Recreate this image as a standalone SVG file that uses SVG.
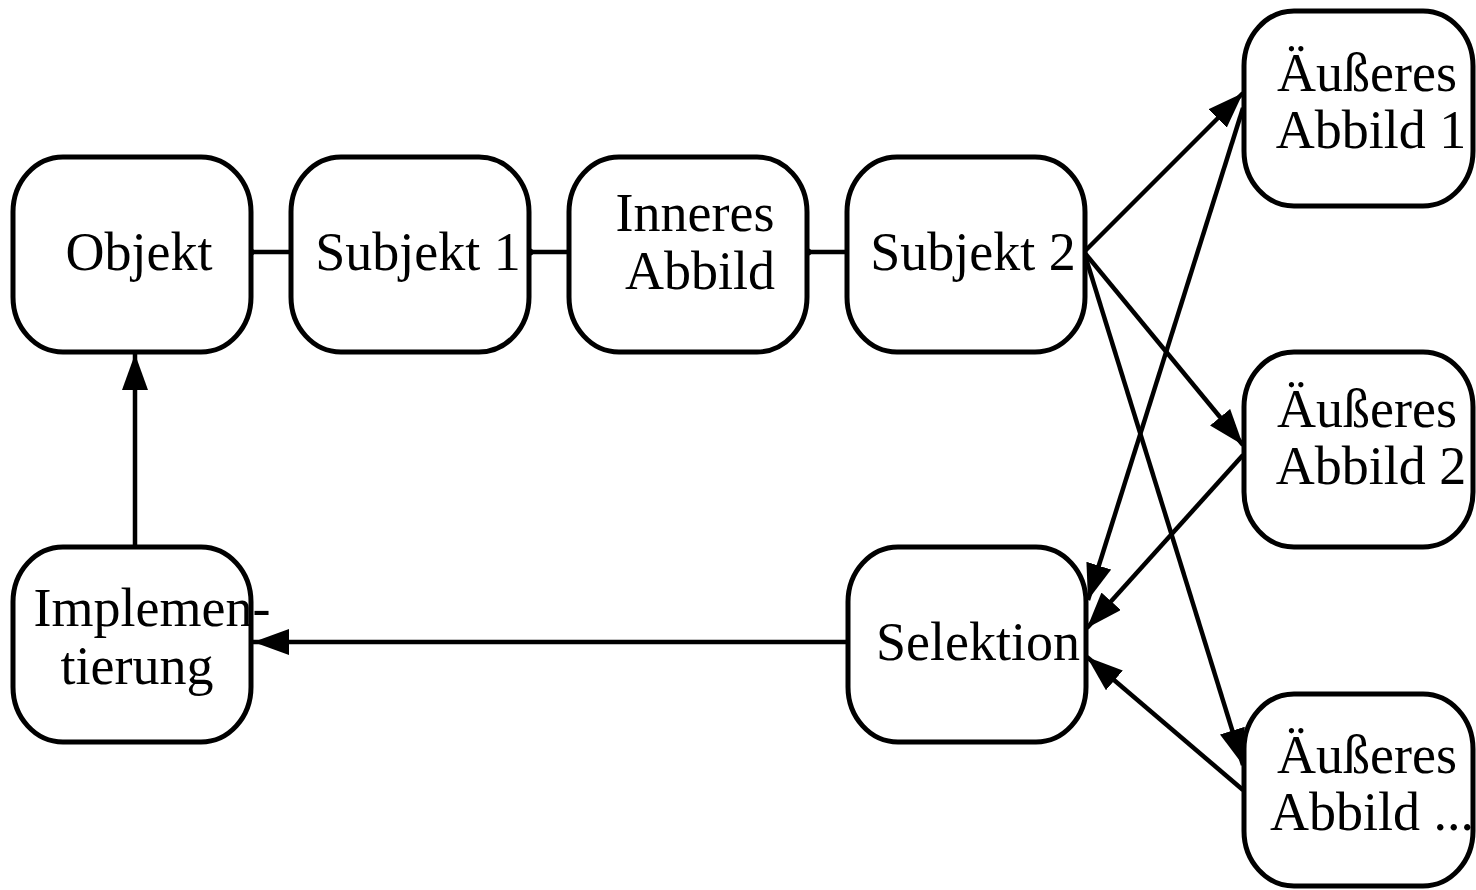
<svg xmlns="http://www.w3.org/2000/svg" width="1476" height="890" viewBox="0 0 1476 890">
<style>
.box{fill:#fff;stroke:#000;stroke-width:5}
.t{font-family:"Liberation Serif","Times New Roman",serif;font-size:54px;fill:#000;text-anchor:middle}
.c{stroke:#000;stroke-width:4.5;fill:none}
</style>
<defs>
<marker id="ah" markerUnits="userSpaceOnUse" viewBox="0 0 36 26" refX="36" refY="13" markerWidth="36" markerHeight="26" orient="auto">
<path d="M0,0 L36,13 L0,26 Z" fill="#000"/>
</marker>
</defs>
<rect width="1476" height="890" fill="#fff"/>
<g id="connectors">
<line class="c" x1="252" y1="252" x2="290" y2="252"/>
<line class="c" x1="530" y1="252" x2="568" y2="252"/>
<line class="c" x1="808" y1="252" x2="846" y2="252"/>
<circle cx="251" cy="252" r="3.5"/>
<circle cx="530" cy="252" r="3.5"/>
<circle cx="808" cy="252" r="3.5"/>
<line class="c" x1="135" y1="546" x2="135" y2="354" marker-end="url(#ah)"/>
<line class="c" x1="846" y1="642" x2="253" y2="642" marker-end="url(#ah)"/>
<line class="c" x1="1084" y1="252" x2="1243" y2="93" marker-end="url(#ah)"/>
<line class="c" x1="1084" y1="252" x2="1243" y2="445" marker-end="url(#ah)"/>
<line class="c" x1="1084" y1="252" x2="1243" y2="765" marker-end="url(#ah)"/>
<line class="c" x1="1243" y1="108" x2="1088" y2="600" marker-end="url(#ah)"/>
<line class="c" x1="1243" y1="455" x2="1087" y2="628" marker-end="url(#ah)"/>
<line class="c" x1="1243" y1="790" x2="1087" y2="657" marker-end="url(#ah)"/>
</g>
<g id="objekt"><rect class="box" x="13" y="157" width="238" height="195" rx="50" ry="55"/><text class="t" x="139" y="270">Objekt</text></g>
<g id="subjekt1"><rect class="box" x="291" y="157" width="238" height="195" rx="50" ry="55"/><text class="t" x="418" y="270">Subjekt 1</text></g>
<g id="inneres"><rect class="box" x="569" y="157" width="238" height="195" rx="50" ry="55"/><text class="t" x="695" y="231">Inneres</text><text class="t" x="700" y="289">Abbild</text></g>
<g id="subjekt2"><rect class="box" x="847" y="157" width="238" height="195" rx="50" ry="55"/><text class="t" x="973" y="270">Subjekt 2</text></g>
<g id="aeusseres1"><rect class="box" x="1244" y="11" width="229" height="195" rx="50" ry="55"/><text class="t" x="1367" y="91">Äußeres</text><text class="t" x="1371" y="148">Abbild 1</text></g>
<g id="aeusseres2"><rect class="box" x="1244" y="352" width="229" height="195" rx="50" ry="55"/><text class="t" x="1367" y="427">Äußeres</text><text class="t" x="1371" y="484">Abbild 2</text></g>
<g id="aeusseres3"><rect class="box" x="1244" y="694" width="229" height="192" rx="50" ry="55"/><text class="t" x="1367" y="773">Äußeres</text><text class="t" x="1372" y="830">Abbild ...</text></g>
<g id="implementierung"><rect class="box" x="13" y="547" width="238" height="195" rx="50" ry="55"/><text class="t" x="152" y="626">Implemen-</text><text class="t" x="137" y="684">tierung</text></g>
<g id="selektion"><rect class="box" x="848" y="547" width="238" height="195" rx="50" ry="55"/><text class="t" x="978" y="660">Selektion</text></g>
</svg>
